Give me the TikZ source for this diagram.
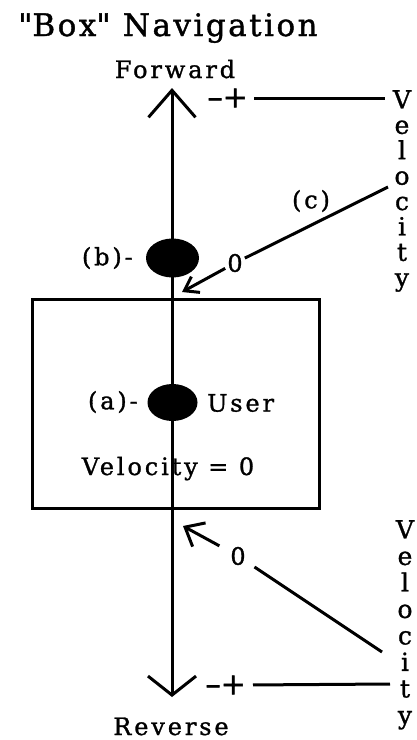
\documentclass[tikz,border=0pt]{standalone}
\usepackage{fontspec}
\setmainfont{DejaVu Serif}[LetterSpace=12,FakeBold=1.2]
\usetikzlibrary{arrows.meta,shapes.geometric}
\tikzset{
  lbl/.style={inner sep=0pt, font=\fontsize{24}{26}\selectfont},
  ttl/.style={inner sep=0pt, font=\fontsize{31}{33}\selectfont\addfontfeatures{LetterSpace=8}},
  tick/.style={inner sep=0pt, font=\fontsize{30}{30}\selectfont\addfontfeatures{LetterSpace=0,FakeBold=2}},
  vstack/.style={inner sep=0pt, align=center, font=\fontsize{25}{#1}\selectfont},
  blob/.style={ellipse, fill=black, inner sep=0pt},
  thick line/.style={line width=3pt},
}
\begin{document}
\begin{tikzpicture}[x=1pt,y=-1pt]
\useasboundingbox (0,0) rectangle (416,740);
% title and axis labels
\node[ttl, anchor=base west] (title) at (18,36) {\textquotedbl Box\textquotedbl{} Navigation};
\node[lbl, anchor=base] (fwd) at (175,78) {Forward};
\node[lbl, anchor=base] (rev) at (171,735) {Reverse};
% axis
\coordinate (top) at (172,88);
\coordinate (bot) at (172,697);
\node[draw, thick line, minimum width=287pt, minimum height=209pt, inner sep=0pt] (box) at (175.5,403.5) {};
\draw[thick line, {Straight Barb[length=27pt,width=47pt]}-{Straight Barb[length=19pt,width=48pt]}] (top) -- (bot);
% user blobs
\node[blob, minimum width=53pt, minimum height=39pt] (b) at (172.5,258) {};
\node[blob, minimum width=50pt, minimum height=37pt] (a) at (172.5,402.5) {};
\node[lbl, anchor=east] (blbl) at (133,258) {(b)-};
\node[lbl, anchor=east] (albl) at (138,402) {(a)-};
\node[lbl, anchor=west] (user) at (207,403) {User};
\node[lbl, anchor=base] (v0) at (168,475) {Velocity = 0};
% top velocity scale
\node[tick, anchor=east] (ticktop) at (248,98) {–+};
\coordinate (vtopend) at (385,98);
\draw[thick line, shorten <=6pt] (ticktop.east) -- (vtopend);
\node[vstack=25.4, anchor=north] (veltop) at (402,90) {V\\e\\l\\o\\c\\i\\t\\y};
\node[lbl] (c) at (311,201) {(c)};
\coordinate (vcTop) at (388,187);
\node[lbl, inner sep=2pt] (zeroB) at (235,263) {0};
\coordinate (tipB) at (182,292);
\draw[thick line] (vcTop) -- (zeroB);
\draw[thick line, -{Straight Barb[length=13pt,width=18pt]}] (zeroB) -- (tipB);
% bottom velocity scale
\node[tick, anchor=east] (tickbot) at (246,685) {–+};
\coordinate (vbotend) at (390,684);
\draw[thick line, shorten <=7pt] (tickbot.east) -- (vbotend);
\node[vstack=26.5, anchor=north] (velbot) at (405,520) {V\\e\\l\\o\\c\\i\\t\\y};
\node[lbl, inner sep=2pt] (zeroL) at (238,556) {0};
\coordinate (tipL) at (183,526);
\coordinate (vcBot) at (382,652);
\draw[thick line, shorten <=8pt] (zeroL) -- (vcBot);
\draw[thick line, shorten <=10pt, -{Straight Barb[length=16pt,width=27pt]}] (zeroL) -- (tipL);
\end{tikzpicture}
\end{document}
